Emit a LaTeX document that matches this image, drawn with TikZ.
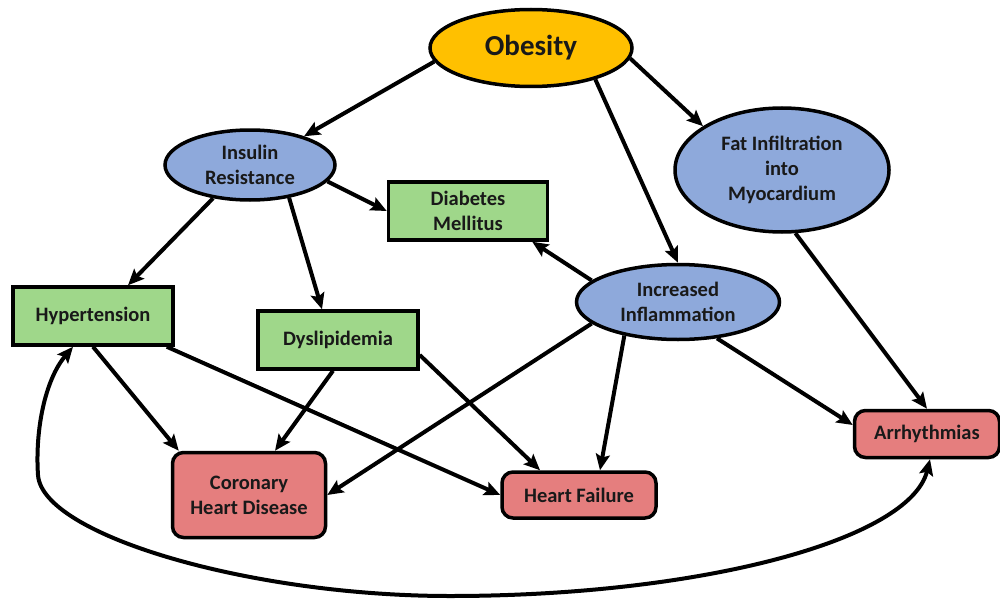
\documentclass[tikz,border=0pt]{standalone}
\usepackage{fontspec}
\setmainfont{Carlito}
\usetikzlibrary{shapes.geometric,arrows.meta}
\definecolor{cgold}{HTML}{FFC000}
\definecolor{cblue}{HTML}{8EA9DB}
\definecolor{cgreen}{HTML}{9FD78A}
\definecolor{cred}{HTML}{E57E7E}
\tikzset{
  base/.style={draw=black, line width=3.5pt, align=center, inner sep=0pt,
    font=\bfseries\fontsize{20.5}{25}\selectfont, text=black!90},
  ell/.style={base, ellipse, fill=cblue},
  gbox/.style={base, rectangle, fill=cgreen},
  rbox/.style={base, rectangle, rounded corners=11pt, fill=cred},
  tip/.tip={Stealth[length=16pt,width=14pt,inset=3pt]},
  arr/.style={line width=4pt, -tip},
  darr/.style={line width=4pt, tip-tip},
}
\begin{document}
\begin{tikzpicture}[x=1pt,y=-1pt]
\useasboundingbox (0,0) rectangle (1000,599);
\node[ell, fill=cgold, minimum width=202pt, minimum height=77pt, font=\bfseries\fontsize{29}{32}\selectfont] (ob) at (531,48) {Obesity};
\node[ell, minimum width=170pt, minimum height=70pt] (ir) at (250,165) {Insulin\\Resistance};
\node[ell, minimum width=214pt, minimum height=124pt] (fat) at (782,170) {Fat Infiltration\\into\\Myocardium};
\node[gbox, minimum width=159pt, minimum height=58pt] (dm) at (468,211) {Diabetes\\Mellitus};
\node[ell, minimum width=203pt, minimum height=75pt] (inf) at (678,302) {Increased\\Inflammation};
\node[gbox, minimum width=160pt, minimum height=58pt] (hyp) at (93,316) {Hypertension};
\node[gbox, minimum width=160pt, minimum height=58pt] (dys) at (338,340) {Dyslipidemia};
\node[rbox, minimum width=153pt, minimum height=85pt] (chd) at (249,495) {Coronary\\Heart Disease};
\node[rbox, minimum width=154pt, minimum height=46pt] (hf) at (579,495) {Heart Failure};
\node[rbox, minimum width=145pt, minimum height=47pt] (ar) at (927,434) {Arrhythmias};

\draw[arr] (ob.188) -- (ir.28);
\draw[arr] (ob.-6) -- (fat.151.5);
\draw[arr] (ob.-26) -- (inf.north);
\draw[arr] (ir.-12) -- (dm.west);
\draw[arr] (ir.222) -- ([xshift=35pt]hyp.north);
\draw[arr] (ir.-40) -- ([xshift=-16pt]dys.north);
\draw[arr] (inf.166) -- ([xshift=-17pt]dm.south east);
\draw[arr] (inf.194) -- (chd.east);
\draw[arr] (inf.212) -- ([xshift=21pt]hf.north);
\draw[arr] (inf.-43) -- ([yshift=9pt]ar.west);
\draw[arr] (fat.-78) -- (ar.north);
\draw[arr] (hyp.south) -- ([xshift=8pt]chd.north west);
\draw[arr] ([xshift=-8pt]hyp.south east) -- (hf.west);
\draw[arr] ([xshift=-5pt]dys.south) -- ([xshift=26pt]chd.north);
\draw[arr] ([yshift=-15pt]dys.east) -- ([xshift=-39pt]hf.north);
\coordinate (c1) at (38,475);
\coordinate (c2) at (450,596);
\draw[darr] ([xshift=-20pt]hyp.south) .. controls (45,380) and (35,430) .. (c1)
  .. controls (42,535) and (250,596) .. (c2)
  .. controls (700,596) and (910,540) .. ([xshift=3pt]ar.south);
\end{tikzpicture}
\end{document}
